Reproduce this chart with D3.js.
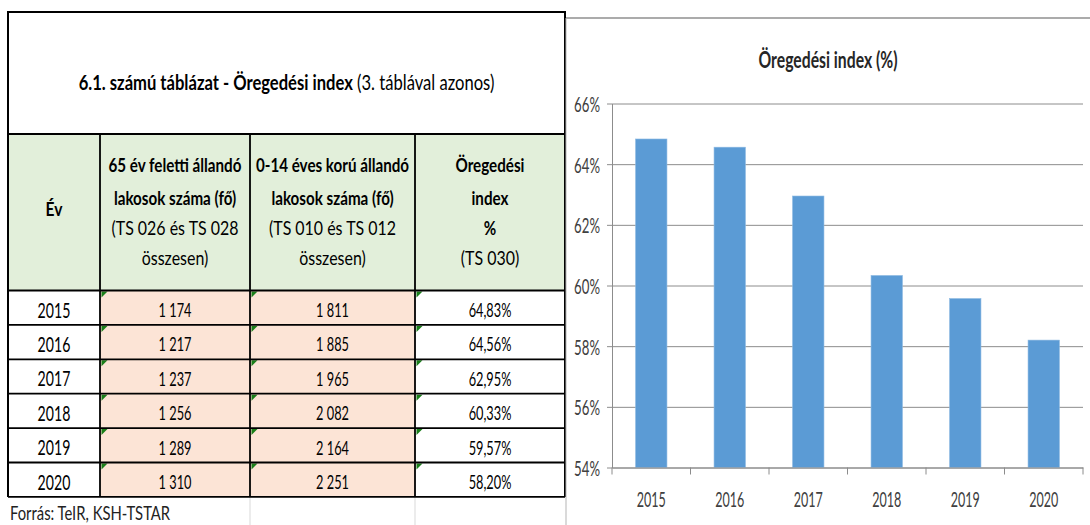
<!DOCTYPE html>
<html>
<head>
<meta charset="utf-8">
<script src="https://cdn.jsdelivr.net/npm/d3@7"></script>
<style>
  html, body { margin: 0; padding: 0; background: #fff; }
  svg { display: block; }
  text { font-family: "Lato", "Liberation Sans", sans-serif; }
</style>
</head>
<body>
<svg id="c" width="1090" height="525"></svg>
<script>
// ---------------- data ----------------
const years = ["2015", "2016", "2017", "2018", "2019", "2020"];
const over65 = [1174, 1217, 1237, 1256, 1289, 1310];
const under14 = [1811, 1885, 1965, 2082, 2164, 2251];
const agingIndex = [64.83, 64.56, 62.95, 60.33, 59.57, 58.20];
const yTicks = [54, 56, 58, 60, 62, 64, 66];

const tableTitleBold = "6.1. számú táblázat - Öregedési index";
const tableTitleRest = " (3. táblával azonos)";
const headerYear = "Év";
const headerOver65 = [["65 év feletti állandó", true], ["lakosok száma (fő)", true], ["(TS 026 és TS 028", false], ["összesen)", false]];
const headerUnder14 = [["0-14 éves korú állandó", true], ["lakosok száma (fő)", true], ["(TS 010 és TS 012", false], ["összesen)", false]];
const headerIndex = [["Öregedési", true], ["index", true], ["%", true], ["(TS 030)", false]];
const sourceNote = "Forrás: TeIR, KSH-TSTAR";
const chartTitle = "Öregedési index (%)";

// ---------------- helpers ----------------
const svg = d3.select("#c");
const hu = d3.formatLocale({ decimal: ",", thousands: " ", grouping: [3], currency: ["", " Ft"] });
const fmtInt = hu.format(",d");
const fmtPct = v => hu.format(".2f")(v) + "%";

function addText(parent, x, y, str, o) {
  const t = parent.append("text")
    .attr("transform", `translate(${x},${y}) scale(${o.sx},1)`)
    .attr("text-anchor", o.anchor || "middle")
    .attr("font-size", o.size)
    .attr("font-weight", o.bold ? "bold" : "normal")
    .attr("fill", o.fill || "#000");
  if (str !== null) t.text(str);
  return t;
}

// ---------------- table ----------------
const TSX = 0.69;
const colX = [8, 100, 250, 415, 565];
const tableTop = 12, titleBottom = 134, headerBottom = 290.5, rowH = 34.4;
const tbl = svg.append("g");

// fills
tbl.append("rect").attr("x", colX[0]).attr("y", titleBottom).attr("width", colX[4] - colX[0]).attr("height", headerBottom - titleBottom).attr("fill", "#E2EFDA");
years.forEach((y, i) => {
  const top = headerBottom + i * rowH;
  tbl.append("rect").attr("x", colX[1]).attr("y", top).attr("width", colX[3] - colX[1]).attr("height", rowH).attr("fill", "#FCE4D6");
});

// light excel gridlines below the table
const tableBottom = headerBottom + years.length * rowH;
[colX[2], colX[3]].forEach(x => {
  tbl.append("line").attr("x1", x).attr("x2", x).attr("y1", tableBottom).attr("y2", 525).attr("stroke", "#d9d9d9").attr("stroke-width", 1);
});

// green error triangles
years.forEach((y, i) => {
  const top = headerBottom + i * rowH + 1;
  [colX[1], colX[2], colX[3]].forEach(x => {
    const x0 = x + 1.5;
    tbl.append("path").attr("d", `M${x0},${top}L${x0 + 6},${top}L${x0},${top + 6}Z`).attr("fill", "#1a7f1a");
  });
});

// borders
const bc = "#000";
function hline(y, x1, x2, w) { tbl.append("line").attr("x1", x1).attr("x2", x2).attr("y1", y).attr("y2", y).attr("stroke", bc).attr("stroke-width", w); }
function vline(x, y1, y2, w) { tbl.append("line").attr("x1", x).attr("x2", x).attr("y1", y1).attr("y2", y2).attr("stroke", bc).attr("stroke-width", w); }
hline(tableTop, colX[0] - 1, colX[4] + 1, 2.2);
hline(titleBottom, colX[0], colX[4], 2);
hline(headerBottom, colX[0], colX[4], 2);
years.forEach((y, i) => hline(headerBottom + (i + 1) * rowH, colX[0], colX[4], 1.8));
vline(colX[0], tableTop, tableBottom, 2);
vline(colX[4], tableTop, tableBottom, 2);
[colX[1], colX[2], colX[3]].forEach(x => vline(x, titleBottom, tableBottom, 1.8));

// title
const tt = addText(tbl, (colX[0] + colX[4]) / 2, 90, null, { size: 21, sx: 0.79 });
tt.append("tspan").attr("font-weight", "bold").text(tableTitleBold);
tt.append("tspan").attr("font-weight", "normal").text(tableTitleRest);

// header
addText(tbl, (colX[0] + colX[1]) / 2, 216, headerYear, { size: 19, bold: true, sx: 0.82 });
const headBase = [171.5, 205, 235, 265];
[[headerOver65, 1], [headerUnder14, 2], [headerIndex, 3]].forEach(([lines, c]) => {
  const cx = (colX[c] + colX[c + 1]) / 2;
  lines.forEach(([s, b], k) => addText(tbl, cx, headBase[k], s, { size: 19, bold: b, sx: b ? 0.8 : 0.84 }));
});

// rows
years.forEach((yr, i) => {
  const base = headerBottom + i * rowH + 27;
  addText(tbl, (colX[0] + colX[1]) / 2, base, yr, { size: 20.5, sx: TSX });
  addText(tbl, (colX[1] + colX[2]) / 2, base - 0.5, fmtInt(over65[i]), { size: 18.5, sx: TSX });
  addText(tbl, (colX[2] + colX[3]) / 2, base - 0.5, fmtInt(under14[i]), { size: 18.5, sx: TSX });
  addText(tbl, (colX[3] + colX[4]) / 2, base - 0.5, fmtPct(agingIndex[i]), { size: 18.5, sx: TSX });
});
addText(tbl, 10, 520, sourceNote, { size: 19.5, sx: 0.76, anchor: "start", fill: "#222" });

// ---------------- chart ----------------
const CSX = 0.57;
const ch = svg.append("g");
// frame
ch.append("line").attr("x1", 566).attr("x2", 1090).attr("y1", 18).attr("y2", 18).attr("stroke", "#8f8f8f").attr("stroke-width", 1.5);
ch.append("line").attr("x1", 566).attr("x2", 566).attr("y1", 18).attr("y2", 525).attr("stroke", "#b5b5b5").attr("stroke-width", 1);

const plot = { left: 612, right: 1083, top: 103.5, bottom: 467.5 };
const x = d3.scaleBand().domain(years).range([plot.left, plot.right]).paddingInner(0.6).paddingOuter(0.3);
const y = d3.scaleLinear().domain([d3.min(yTicks), d3.max(yTicks)]).range([plot.bottom, plot.top]);

// gridlines
const grid = ch.append("g").attr("transform", `translate(${plot.left},0)`)
  .call(d3.axisLeft(y).tickValues(yTicks).tickSize(-(plot.right - plot.left)).tickFormat(""));
grid.select(".domain").remove();
grid.selectAll(".tick line").attr("stroke", "#8c8c8c").attr("stroke-width", 1);

// bars
ch.append("g").selectAll("rect").data(years).join("rect")
  .attr("x", d => x(d))
  .attr("width", x.bandwidth())
  .attr("y", (d, i) => y(agingIndex[i]))
  .attr("height", (d, i) => y(d3.min(yTicks)) - y(agingIndex[i]))
  .attr("fill", "#5B9BD5")
  .attr("stroke", "#8db9e2").attr("stroke-width", 0.6);

// y axis
const ya = ch.append("g").attr("transform", `translate(${plot.left},0)`)
  .call(d3.axisLeft(y).tickValues(yTicks).tickSize(5).tickSizeOuter(0).tickPadding(12).tickFormat(d => d + "%"));
ya.select(".domain").attr("stroke", "#8c8c8c");
ya.selectAll(".tick line").attr("stroke", "#8c8c8c");
ya.selectAll(".tick text")
  .attr("font-size", 22).attr("fill", "#404040").attr("font-family", null)
  .attr("x", null).attr("dy", "0.36em")
  .attr("transform", `translate(-12,0) scale(0.6,1)`);

// x axis
const xa = ch.append("g").attr("transform", `translate(0,${plot.bottom})`)
  .call(d3.axisBottom(x).tickSize(0).tickSizeOuter(0).tickPadding(0));
xa.select(".domain").attr("stroke", "#8c8c8c");
xa.selectAll(".tick text")
  .attr("font-size", 22).attr("fill", "#404040").attr("font-family", null)
  .attr("y", null).attr("dy", null)
  .attr("transform", `translate(0,39.5) scale(${CSX},1)`);
const edges = years.map(d => x(d) + x.bandwidth() / 2 - x.step() / 2).concat([x(years[years.length - 1]) + x.bandwidth() / 2 + x.step() / 2]);
xa.selectAll(".edge").data(edges).join("line").attr("class", "edge")
  .attr("x1", d => d).attr("x2", d => d).attr("y1", 0).attr("y2", 7)
  .attr("stroke", "#8c8c8c");

// title
addText(ch, 828, 68, chartTitle, { size: 23, bold: true, sx: 0.685, fill: "#262626" });
</script>
</body>
</html>
